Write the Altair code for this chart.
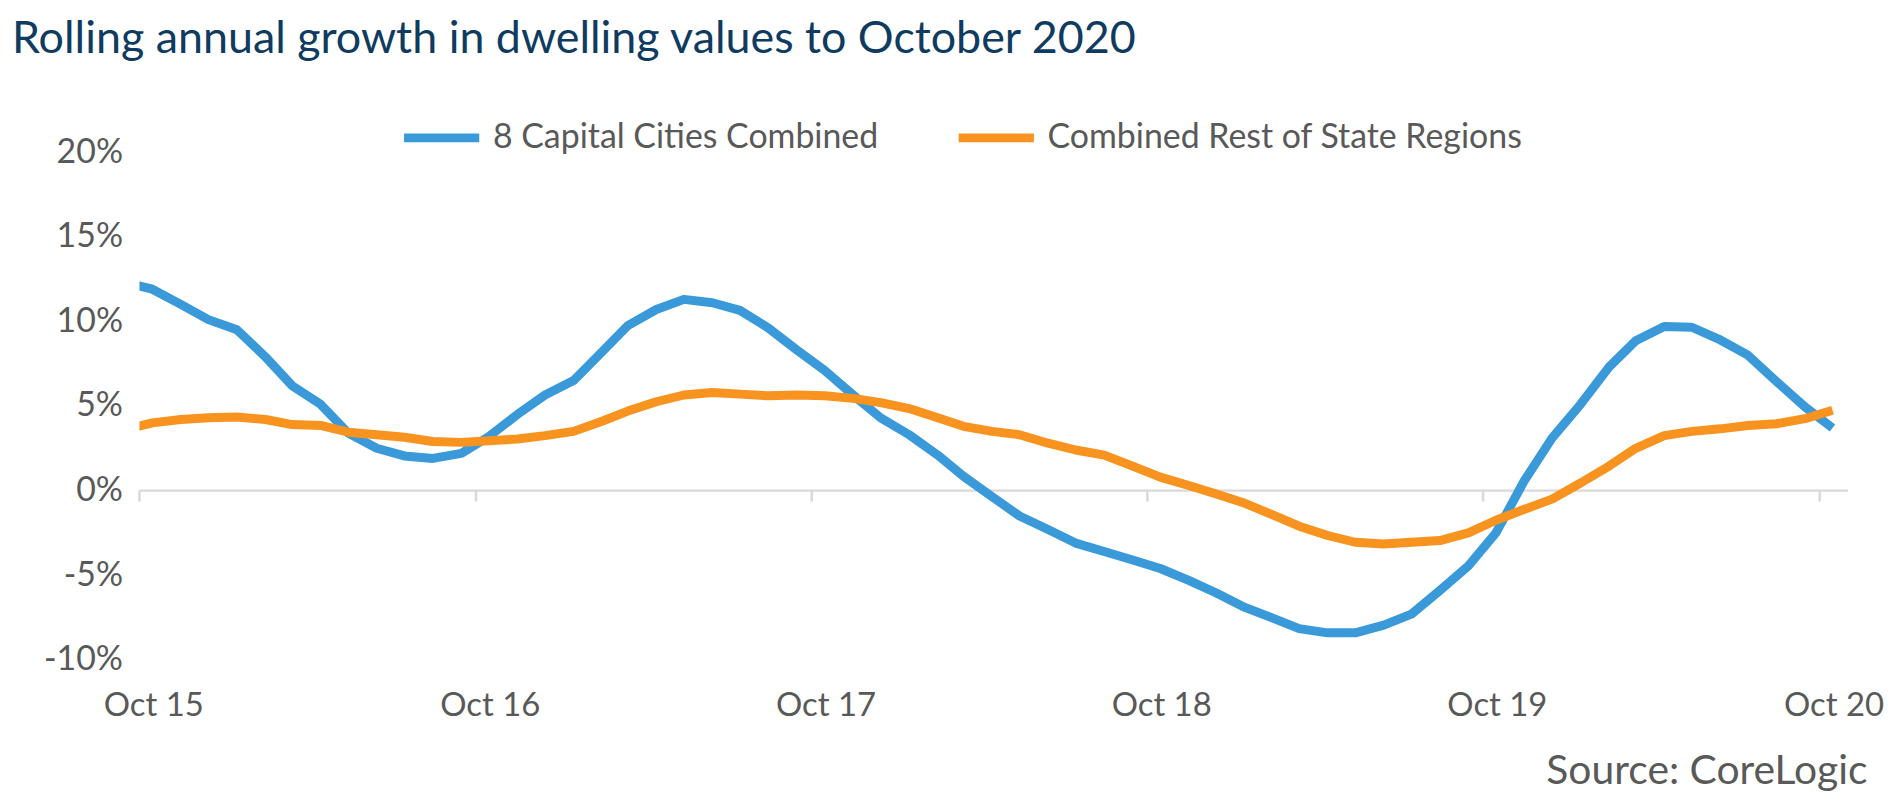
import altair as alt
import pandas as pd

# Monthly points (mid-month), Sep 2015 .. Oct 2020
months = (pd.date_range("2015-09-01", "2020-10-01", freq="MS") + pd.Timedelta(days=14)).strftime("%Y-%m-%dT00:00:00").tolist()

capital = [12.3, 11.9, 11.0, 10.1, 9.5, 7.9, 6.2, 5.1, 3.4, 2.5, 2.05, 1.9, 2.2, 3.2, 4.5, 5.65,
           6.5, 8.2, 9.75, 10.7, 11.3, 11.1, 10.65, 9.6, 8.3, 7.1, 5.65, 4.3, 3.3, 2.1, 0.85,
           -0.35, -1.5, -2.3, -3.1, -3.6, -4.1, -4.6, -5.3, -6.05, -6.9, -7.55, -8.15, -8.4,
           -8.4, -7.95, -7.3, -5.9, -4.45, -2.5, 0.6, 3.1, 5.1, 7.3, 8.85, 9.7, 9.65, 8.9, 8.0,
           6.45, 4.95, 3.7]
rest = [3.6, 4.0, 4.2, 4.3, 4.35, 4.2, 3.9, 3.85, 3.45, 3.3, 3.15, 2.9, 2.85, 2.95, 3.05, 3.25,
        3.5, 4.1, 4.7, 5.25, 5.65, 5.8, 5.7, 5.6, 5.65, 5.6, 5.45, 5.2, 4.85, 4.3, 3.8, 3.5,
        3.3, 2.8, 2.4, 2.1, 1.45, 0.8, 0.3, -0.2, -0.75, -1.45, -2.1, -2.65, -3.05, -3.15,
        -3.05, -2.95, -2.5, -1.75, -1.1, -0.5, 0.45, 1.45, 2.5, 3.25, 3.5, 3.65, 3.85, 3.95,
        4.25, 4.75]

series_names = ["8 Capital Cities Combined", "Combined Rest of State Regions"]
series_colors = ["#3a9ad9", "#f7931e"]

tick_dates = [f"{y}-10-01T00:00:00" for y in range(2015, 2021)]
label_years = list(range(2015, 2021))
y_ticks = [-10, -5, 0, 5, 10, 15, 20]

df = pd.DataFrame({
    "date": months * 2,
    "value": capital + rest,
    "series": [series_names[0]] * len(months) + [series_names[1]] * len(months),
})
ticks_df = pd.DataFrame({"date": tick_dates})
zero_df = pd.DataFrame({"value": [0]})

GRAY = "#595959"
FONT = "Lato"

x_scale = alt.Scale(domain=[alt.DateTime(year=2015, month=10, date=1),
                            alt.DateTime(year=2020, month=11, date=1)])
y_scale = alt.Scale(domain=[-10, 20], nice=False)

x_axis = alt.Axis(
    values=[alt.DateTime(year=y, month=10, date=16) for y in label_years],
    format="%b %y", ticks=False, domain=False, grid=False,
    labelPadding=30, labelFontSize=33, labelColor=GRAY, labelFont=FONT,
    title="Source: CoreLogic", titleAnchor="end", titleAlign="right",
    titleX=1735, titleY=124, titleBaseline="alphabetic",
    titleFontSize=41, titleColor=GRAY, titleFont=FONT, titleFontWeight="normal",
)
y_axis = alt.Axis(
    values=y_ticks, labelExpr="datum.value + '%'", ticks=False, domain=False, grid=False,
    labelPadding=17, labelFontSize=34, labelColor=GRAY, labelFont=FONT, title=None,
)

zero_line = alt.Chart(zero_df).mark_rule(color="#d9d9d9", strokeWidth=2.5).encode(
    y=alt.Y("value:Q", scale=y_scale, axis=y_axis)
)
ticks = alt.Chart(ticks_df).mark_rule(color="#d9d9d9", strokeWidth=2.5, y2Offset=11).encode(
    x=alt.X("date:T", scale=x_scale, axis=x_axis),
    y=alt.datum(0),
    y2=alt.datum(0),
)
lines = alt.Chart(df).mark_line(strokeWidth=9, clip=True, strokeJoin="round").encode(
    x=alt.X("date:T", scale=x_scale, axis=x_axis),
    y=alt.Y("value:Q", scale=y_scale, axis=y_axis),
    color=alt.Color(
        "series:N",
        scale=alt.Scale(domain=series_names, range=series_colors),
        legend=alt.Legend(
            orient="none", legendX=261, legendY=-57, direction="horizontal", title=None,
            labelFontSize=34, labelColor=GRAY, labelFont=FONT, labelLimit=0,
            symbolType="stroke", symbolStrokeWidth=9, symbolSize=5700,
            labelOffset=9, columnPadding=61, padding=0,
        ),
    ),
)

chart = alt.layer(zero_line, ticks, lines).properties(
    width=1716,
    height=510,
    autosize=alt.AutoSizeParams(type="none"),
    padding={"left": 132, "top": 143, "right": 40, "bottom": 135},
    title=alt.TitleParams(
        text="Rolling annual growth in dwelling values to October 2020",
        anchor="start", frame="group", dx=-128, dy=-29, fontSize=45, font=FONT,
        color="#0f3b60", fontWeight="normal",
    ),
).configure(font=FONT, view=alt.ViewConfig(strokeWidth=0))

chart.save("out.html", embed_options={"renderer": "svg", "actions": False})
